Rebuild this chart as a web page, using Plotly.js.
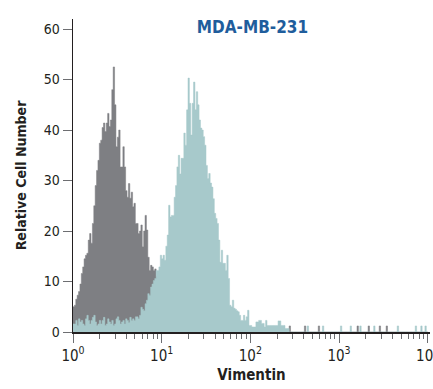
<!DOCTYPE html>
<html>
<head>
<meta charset="utf-8">
<script src="https://cdn.plot.ly/plotly-3.0.1.min.js"></script>
<style>
  html, body { margin: 0; padding: 0; background: #ffffff; }
  #chart { width: 433px; height: 389px; }
</style>
</head>
<body>
<div id="chart"></div>
<script>
// ---- chart data ----
const chartTitle = "MDA-MB-231";
const xAxisTitle = "Vimentin";
const yAxisTitle = "Relative Cell Number";
const channelCount = 256;      // histogram channels over 4 decades
const decades = 4;
const majorTickVals = [1, 10, 100, 1000, 10000];
const majorTickText = ["10<sup>0</sup>", "10<sup>1</sup>", "10<sup>2</sup>", "10<sup>3</sup>", "10<sup>4</sup>"];
const yTickVals = [0, 10, 20, 30, 40, 50, 60];

// isotype control (dark grey), counts per channel
const isotypeCounts = [
  5, 5.3, 6.5, 7.3, 8, 9.5, 11.6, 12.9, 14.5, 15.2, 15.6, 18.2, 19.5, 17.6, 21.5, 25,
  29, 32, 34, 37.4, 38, 40.5, 41.4, 39.7, 41.4, 43.3, 40.7, 42, 48, 52.5, 45, 36.7,
  38.6, 40, 32.7, 32.7, 36.7, 32.7, 28, 26.7, 29.4, 26.5, 27.7, 24.8, 25.5, 21.5, 21.5, 19.5,
  20, 21.2, 16.9, 20, 23.1, 20.2, 14.8, 12.2, 13.2, 12.9, 12.2, 12.5, 11, 10, 9, 8,
  7, 6.5, 6, 5, 4.5, 4, 3.5, 3, 2.5, 2.5, 2, 2, 1.5, 1.5, 1, 1,
  1, 0, 1, 0, 0, 1, 0, 0, 0, 0, 0, 0, 0, 0, 0, 0,
  0, 0, 0, 0, 0, 0, 0, 0, 0, 0, 0, 0, 0, 0, 0, 0,
  0, 0, 0, 0, 0, 0, 0, 0, 0, 0, 0, 0, 0, 0, 0, 0,
  0, 0, 0, 0, 0, 0, 0, 0, 0, 0, 0, 0, 0, 0, 0, 0,
  0, 0, 0, 0, 0, 0, 0, 0, 0, 0, 0, 0, 1.2, 0, 0, 0,
  0, 0, 0, 0, 0, 0, 0, 1.2, 0, 0, 0, 0, 0, 0, 0, 0,
  0, 1.2, 0, 0, 0, 0, 0, 0, 0, 0, 0, 0, 0, 0, 0, 0,
  0, 0, 0, 0, 0, 0, 0, 0, 0, 0, 0, 0, 0, 1.2, 0, 0,
  0, 0, 0, 0, 0, 1.2, 0, 0, 0, 0, 0, 0, 0, 1.2, 0, 0,
  0, 0, 1.2, 0, 0, 0, 0, 0, 0, 0, 0, 0, 0, 0, 0, 0,
  0, 0, 0, 0, 0, 0, 0, 0, 0, 0, 0, 0, 0, 0, 0, 0
];

// Vimentin stained (light teal), counts per channel
const vimentinCounts = [
  1.6, 1.6, 2.3, 1.3, 2.6, 2.0, 2.3, 1.6, 1.3, 2.6, 3.3, 2.3, 1.6, 2.3, 2.9, 3.3,
  2.0, 1.3, 1.6, 2.3, 1.6, 2.3, 2.9, 1.3, 1.6, 2.6, 2.0, 1.6, 2.3, 1.3, 1.6, 2.6,
  3.0, 2.3, 1.6, 2.0, 2.3, 1.6, 2.6, 2.3, 1.9, 2.9, 2.3, 2.6, 2.3, 3.0, 3.0, 2.6,
  3.3, 4.9, 4.5, 4.2, 5.6, 6.3, 7.6, 7.3, 8.9, 9.5, 10.2, 10.6, 12.2, 12.2, 12.9, 15.2,
  14.5, 15.2, 14.2, 17, 19.2, 25.1, 22.8, 23.1, 23.1, 26.7, 29, 32.7, 35, 31.3, 34.4, 34.4,
  39.4, 37, 44, 50.3, 45.3, 39, 45.3, 49.5, 44, 47.6, 45, 42, 40.4, 40, 38.7, 37,
  33, 30.4, 31.4, 29.5, 28.7, 26.4, 23.5, 22.5, 21.5, 18.2, 13.8, 16.2, 13.6, 13.6, 12.2, 15.2,
  10.6, 5.3, 5, 6.3, 4.7, 4.5, 4.2, 4, 3.3, 2.3, 2.3, 3.3, 2.3, 3, 4.3, 1.3,
  1.3, 1, 1, 1, 2, 2, 2.3, 2.3, 1.7, 1.7, 1, 2.3, 1.3, 1.3, 1.3, 1.3,
  1.3, 1.3, 1.3, 1.3, 2.2, 2.2, 1.3, 1.3, 1.3, 0.7, 0.7, 0.7, 0, 0, 0, 0,
  0, 0, 0, 0, 0, 0, 0, 0, 0, 1.2, 0, 0, 0, 0, 0, 0,
  0, 0, 0, 0, 1.2, 0, 0, 0, 0, 0, 0, 0, 0, 0, 0, 0,
  0, 1.2, 0, 0, 0, 0, 0, 0, 1.2, 0, 0, 0, 0, 0, 0, 1.2,
  0, 0, 0, 0, 0, 0, 0, 0, 0, 1.2, 0, 0, 0, 0, 0, 0,
  0, 0, 0, 0, 0, 0, 0, 0, 0, 0, 1.2, 0, 0, 0, 0, 0,
  0, 0, 0, 0, 0, 0, 0, 1.2, 0, 0, 0, 1.2, 0, 0, 1.2, 0
];

// ---- build traces ----
// left edge of every channel on the log scale (plus the closing right edge)
const channelEdges = [];
for (let i = 0; i <= channelCount; i++) {
  channelEdges.push(Math.pow(10, i * decades / channelCount));
}
function stepY(counts) {
  return counts.concat([counts[counts.length - 1]]);
}
// minor tick positions (2..9 within each decade)
const minorTickVals = [];
for (let d = 0; d < decades; d++) {
  for (let m = 2; m <= 9; m++) minorTickVals.push(m * Math.pow(10, d));
}

const FONT = '"Liberation Sans Narrow", "DejaVu Sans Condensed", "Arial Narrow", sans-serif';

const traces = [
  {
    type: 'scatter', mode: 'lines', name: 'Isotype',
    x: channelEdges, y: stepY(isotypeCounts),
    line: { shape: 'hv', color: '#7e7f83', width: 0.5 },
    fill: 'tozeroy', fillcolor: '#7e7f83',
    hoverinfo: 'skip'
  },
  {
    type: 'scatter', mode: 'lines', name: 'Vimentin',
    x: channelEdges, y: stepY(vimentinCounts),
    line: { shape: 'hv', color: '#a7c9cb', width: 0.5 },
    fill: 'tozeroy', fillcolor: '#a7c9cb',
    hoverinfo: 'skip'
  }
];

const layout = {
  width: 433, height: 389,
  margin: { l: 73, r: 3, t: 19, b: 57, pad: 0 },
  paper_bgcolor: '#ffffff', plot_bgcolor: '#ffffff',
  showlegend: false,
  font: { family: FONT, color: '#231f20', size: 14 },
  title: {
    text: '<b>' + chartTitle + '</b>',
    font: { family: FONT, size: 17, color: '#1f5d9c' },
    xref: 'container', x: 0.583, xanchor: 'center',
    yref: 'container', y: 0.93, yanchor: 'middle'
  },
  xaxis: {
    type: 'log',
    range: [0, 4.026],
    tickmode: 'array', tickvals: majorTickVals, ticktext: majorTickText,
    ticklabeloverflow: 'allow',
    ticks: 'outside', ticklen: 9, tickwidth: 1, tickcolor: '#6d6e71',
    minor: { tickmode: 'array', tickvals: minorTickVals, ticks: 'outside', ticklen: 5, tickwidth: 1, tickcolor: '#6d6e71' },
    showline: true, linecolor: '#231f20', linewidth: 1.5,
    showgrid: false, zeroline: false,
    tickfont: { family: FONT, size: 15, color: '#231f20' },
    title: { text: '<b>' + xAxisTitle + '</b>', font: { family: FONT, size: 15, color: '#231f20' }, standoff: 6 },
    fixedrange: true
  },
  yaxis: {
    range: [0, 62],
    tickmode: 'array', tickvals: yTickVals,
    ticks: 'outside', ticklen: 9, tickwidth: 1, tickcolor: '#6d6e71',
    showline: true, linecolor: '#231f20', linewidth: 1.5,
    showgrid: false, zeroline: false,
    tickfont: { family: FONT, size: 14, color: '#231f20' },
    title: { text: '<b>' + yAxisTitle + '</b>', font: { family: FONT, size: 14, color: '#231f20' }, standoff: 14 },
    fixedrange: true
  }
};

Plotly.newPlot('chart', traces, layout, { displayModeBar: false, staticPlot: true });
</script>
</body>
</html>
